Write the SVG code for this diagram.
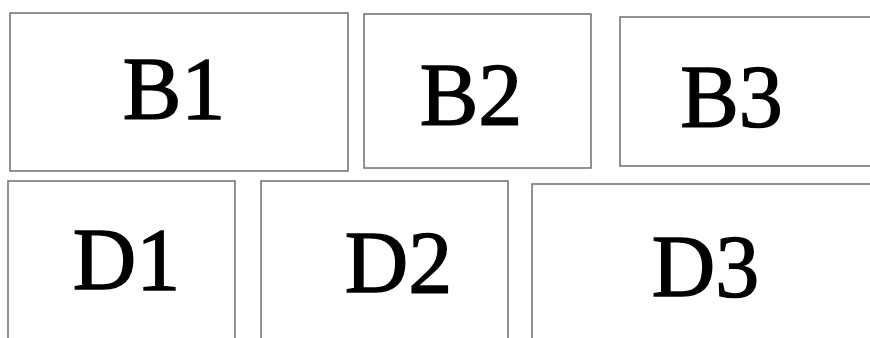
<svg xmlns="http://www.w3.org/2000/svg" width="870" height="338" viewBox="0 0 870 338">
<style>
.box{fill:#fff;stroke:#6e6e6e;stroke-width:1.5}
.lbl{font-family:"Liberation Serif","Times New Roman",serif;font-size:88px;fill:#000;stroke:#000;stroke-width:1.4;text-anchor:middle}
</style>
<rect width="870" height="338" fill="#fff"/>
<g id="B1"><rect class="box" x="10" y="13" width="338" height="158"/><text class="lbl" x="174" y="118">B1</text></g>
<g id="B2"><rect class="box" x="364" y="14" width="227" height="154"/><text class="lbl" x="471" y="124">B2</text></g>
<g id="B3"><rect class="box" x="620" y="17" width="260" height="149"/><text class="lbl" x="731.5" y="126">B3</text></g>
<g id="D1"><rect class="box" x="8" y="181" width="227" height="170"/><text class="lbl" x="126.5" y="289">D1</text></g>
<g id="D2"><rect class="box" x="261" y="181" width="247" height="170"/><text class="lbl" x="398.5" y="292">D2</text></g>
<g id="D3"><rect class="box" x="532" y="184" width="350" height="170"/><text class="lbl" x="705.5" y="296">D3</text></g>
<g id="connectors"></g>
</svg>
